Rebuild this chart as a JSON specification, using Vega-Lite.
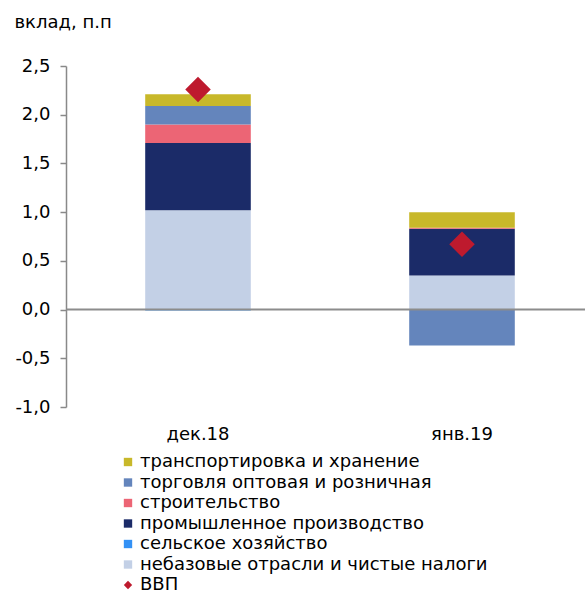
{
  "$schema": "https://vega.github.io/schema/vega-lite/v6.json",
  "autosize": "none",
  "width": 519,
  "height": 341,
  "padding": {"left": 66, "top": 66, "right": 0, "bottom": 184},
  "background": "white",
  "config": {
    "font": "DejaVu Sans",
    "view": {"stroke": null},
    "axis": {"labelColor": "#000000", "titleColor": "#000000", "labelFont": "DejaVu Sans", "titleFont": "DejaVu Sans", "grid": false},
    "legend": {"labelFont": "DejaVu Sans", "labelColor": "#000000"}
  },
  "datasets": {
    "bars": [
      {"period": "дек.18", "series": "небазовые отрасли и чистые налоги", "value": 1.02, "order": 1},
      {"period": "дек.18", "series": "промышленное производство", "value": 0.69, "order": 2},
      {"period": "дек.18", "series": "строительство", "value": 0.19, "order": 3},
      {"period": "дек.18", "series": "торговля оптовая и розничная", "value": 0.19, "order": 4},
      {"period": "дек.18", "series": "транспортировка и хранение", "value": 0.12, "order": 5},
      {"period": "дек.18", "series": "сельское хозяйство", "value": -0.01, "order": 0},
      {"period": "янв.19", "series": "небазовые отрасли и чистые налоги", "value": 0.35, "order": 1},
      {"period": "янв.19", "series": "промышленное производство", "value": 0.48, "order": 2},
      {"period": "янв.19", "series": "строительство", "value": 0.01, "order": 3},
      {"period": "янв.19", "series": "торговля оптовая и розничная", "value": -0.37, "order": 4},
      {"period": "янв.19", "series": "транспортировка и хранение", "value": 0.16, "order": 5},
      {"period": "янв.19", "series": "сельское хозяйство", "value": 0.0, "order": 0}
    ],
    "gdp": [
      {"period": "дек.18", "series": "ВВП", "value": 2.26},
      {"period": "янв.19", "series": "ВВП", "value": 0.67}
    ],
    "zero": [{"v": 0}]
  },
  "layer": [
    {
      "data": {"name": "bars"},
      "mark": {"type": "bar"},
      "encoding": {
        "x": {
          "field": "period", "type": "nominal", "sort": ["дек.18", "янв.19"],
          "scale": {"range": [0, 528], "paddingInner": 0.6, "paddingOuter": 0.3},
          "axis": {"title": null, "labelAngle": 0, "ticks": false, "domain": false, "labelFontSize": 18, "labelPadding": 18}
        },
        "y": {
          "field": "value", "type": "quantitative", "stack": "zero",
          "scale": {"domain": [-1, 2.5], "nice": false, "zero": false},
          "axis": {
            "title": "вклад, п.п", "titleAngle": 0, "titleX": -52, "titleY": -44, "titleAlign": "left", "titleBaseline": "middle",
            "titleFontWeight": "normal", "titleFontSize": 18,
            "values": [-1, -0.5, 0, 0.5, 1, 1.5, 2, 2.5],
            "labelExpr": "replace(replace(format(datum.value, '.1f'), '.', ','), '−', '-')",
            "labelFontSize": 18, "labelPadding": 10,
            "domainColor": "#898989", "domainWidth": 1.5, "tickColor": "#898989", "tickSize": 6, "tickWidth": 1.5
          }
        },
        "color": {
          "field": "series", "type": "nominal",
          "scale": {
            "domain": ["транспортировка и хранение", "торговля оптовая и розничная", "строительство", "промышленное производство", "сельское хозяйство", "небазовые отрасли и чистые налоги", "ВВП"],
            "range": ["#C8B82A", "#6485BC", "#EC6575", "#1B2B68", "#3391F5", "#C3D0E6", "#BE1A2E"]
          },
          "legend": {
            "title": null, "orient": "none", "legendX": 53, "legendY": 387, "padding": 0,
            "labelFontSize": 18, "labelLimit": 600, "symbolSize": 70, "rowPadding": 2.5, "symbolOffset": 0, "labelOffset": 3, "symbolStrokeWidth": 0
          }
        },
        "order": {"field": "order", "type": "quantitative"}
      }
    },
    {
      "data": {"name": "gdp"},
      "mark": {"type": "point", "filled": true, "size": 650, "opacity": 1},
      "encoding": {
        "x": {"field": "period", "type": "nominal", "sort": ["дек.18", "янв.19"]},
        "y": {"field": "value", "type": "quantitative"},
        "color": {"field": "series", "type": "nominal"},
        "shape": {
          "field": "series", "type": "nominal",
          "scale": {
            "domain": ["транспортировка и хранение", "торговля оптовая и розничная", "строительство", "промышленное производство", "сельское хозяйство", "небазовые отрасли и чистые налоги", "ВВП"],
            "range": ["square", "square", "square", "square", "square", "square", "diamond"]
          },
          "legend": {"title": null}
        }
      }
    },
    {
      "data": {"name": "zero"},
      "mark": {"type": "rule", "color": "#8c8c8c", "strokeWidth": 2},
      "encoding": {"y": {"field": "v", "type": "quantitative"}}
    }
  ]
}
